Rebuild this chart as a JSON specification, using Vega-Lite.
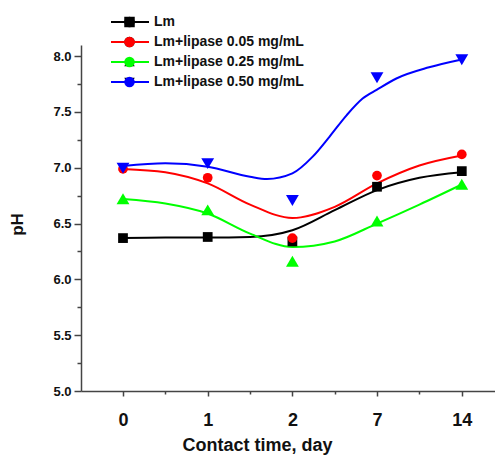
{
  "$schema": "https://vega.github.io/schema/vega-lite/v6.json",
  "width": 414,
  "height": 346,
  "autosize": {"type": "none"},
  "padding": {"left": 81, "top": 45, "right": 0, "bottom": 66},
  "config": {
    "view": {"stroke": null},
    "font": "Liberation Sans",
    "axis": {"grid": false, "domainColor": "#444", "tickColor": "#444", "domainWidth": 1.5, "tickWidth": 1.5, "labelColor": "#111", "labelFontWeight": "bold", "titleColor": "#111", "titleFontWeight": "bold"}
  },
  "datasets": {
    "points": [
      {"series": "Lm", "day": 0, "pH": 6.37},
      {"series": "Lm", "day": 1, "pH": 6.38},
      {"series": "Lm", "day": 2, "pH": 6.34},
      {"series": "Lm", "day": 7, "pH": 6.83},
      {"series": "Lm", "day": 14, "pH": 6.97},
      {"series": "Lm+lipase 0.05 mg/mL", "day": 0, "pH": 6.99},
      {"series": "Lm+lipase 0.05 mg/mL", "day": 1, "pH": 6.91},
      {"series": "Lm+lipase 0.05 mg/mL", "day": 2, "pH": 6.37},
      {"series": "Lm+lipase 0.05 mg/mL", "day": 7, "pH": 6.93},
      {"series": "Lm+lipase 0.05 mg/mL", "day": 14, "pH": 7.12},
      {"series": "Lm+lipase 0.25 mg/mL", "day": 0, "pH": 6.72},
      {"series": "Lm+lipase 0.25 mg/mL", "day": 1, "pH": 6.62},
      {"series": "Lm+lipase 0.25 mg/mL", "day": 2, "pH": 6.16},
      {"series": "Lm+lipase 0.25 mg/mL", "day": 7, "pH": 6.52},
      {"series": "Lm+lipase 0.25 mg/mL", "day": 14, "pH": 6.85},
      {"series": "Lm+lipase 0.50 mg/mL", "day": 0, "pH": 7.0},
      {"series": "Lm+lipase 0.50 mg/mL", "day": 1, "pH": 7.04},
      {"series": "Lm+lipase 0.50 mg/mL", "day": 2, "pH": 6.71},
      {"series": "Lm+lipase 0.50 mg/mL", "day": 7, "pH": 7.81},
      {"series": "Lm+lipase 0.50 mg/mL", "day": 14, "pH": 7.97}
    ],
    "curves": [
      {"series": "Lm", "day": 0, "pH": 6.37},
      {"series": "Lm", "day": 0.5, "pH": 6.375},
      {"series": "Lm", "day": 1, "pH": 6.375},
      {"series": "Lm", "day": 1.5, "pH": 6.38},
      {"series": "Lm", "day": 2, "pH": 6.44},
      {"series": "Lm", "day": 4.5, "pH": 6.62},
      {"series": "Lm", "day": 7, "pH": 6.8},
      {"series": "Lm", "day": 10.5, "pH": 6.91},
      {"series": "Lm", "day": 14, "pH": 6.96},
      {"series": "Lm+lipase 0.05 mg/mL", "day": 0, "pH": 6.99},
      {"series": "Lm+lipase 0.05 mg/mL", "day": 0.5, "pH": 6.96},
      {"series": "Lm+lipase 0.05 mg/mL", "day": 1, "pH": 6.86},
      {"series": "Lm+lipase 0.05 mg/mL", "day": 1.5, "pH": 6.67},
      {"series": "Lm+lipase 0.05 mg/mL", "day": 2, "pH": 6.55},
      {"series": "Lm+lipase 0.05 mg/mL", "day": 4.5, "pH": 6.65},
      {"series": "Lm+lipase 0.05 mg/mL", "day": 7, "pH": 6.86},
      {"series": "Lm+lipase 0.05 mg/mL", "day": 10.5, "pH": 7.02},
      {"series": "Lm+lipase 0.05 mg/mL", "day": 14, "pH": 7.11},
      {"series": "Lm+lipase 0.25 mg/mL", "day": 0, "pH": 6.72},
      {"series": "Lm+lipase 0.25 mg/mL", "day": 0.5, "pH": 6.68},
      {"series": "Lm+lipase 0.25 mg/mL", "day": 1, "pH": 6.59},
      {"series": "Lm+lipase 0.25 mg/mL", "day": 1.5, "pH": 6.41},
      {"series": "Lm+lipase 0.25 mg/mL", "day": 2, "pH": 6.29},
      {"series": "Lm+lipase 0.25 mg/mL", "day": 4.5, "pH": 6.34},
      {"series": "Lm+lipase 0.25 mg/mL", "day": 7, "pH": 6.5},
      {"series": "Lm+lipase 0.25 mg/mL", "day": 10.5, "pH": 6.67},
      {"series": "Lm+lipase 0.25 mg/mL", "day": 14, "pH": 6.85},
      {"series": "Lm+lipase 0.50 mg/mL", "day": 0, "pH": 7.015},
      {"series": "Lm+lipase 0.50 mg/mL", "day": 0.5, "pH": 7.04},
      {"series": "Lm+lipase 0.50 mg/mL", "day": 1, "pH": 7.01},
      {"series": "Lm+lipase 0.50 mg/mL", "day": 1.5, "pH": 6.92},
      {"series": "Lm+lipase 0.50 mg/mL", "day": 1.7, "pH": 6.9},
      {"series": "Lm+lipase 0.50 mg/mL", "day": 2, "pH": 6.95},
      {"series": "Lm+lipase 0.50 mg/mL", "day": 3.2, "pH": 7.1},
      {"series": "Lm+lipase 0.50 mg/mL", "day": 4.2, "pH": 7.28},
      {"series": "Lm+lipase 0.50 mg/mL", "day": 5.2, "pH": 7.47},
      {"series": "Lm+lipase 0.50 mg/mL", "day": 6.15, "pH": 7.62},
      {"series": "Lm+lipase 0.50 mg/mL", "day": 7, "pH": 7.7},
      {"series": "Lm+lipase 0.50 mg/mL", "day": 8.6, "pH": 7.8},
      {"series": "Lm+lipase 0.50 mg/mL", "day": 11.3, "pH": 7.9},
      {"series": "Lm+lipase 0.50 mg/mL", "day": 14, "pH": 7.97}
    ]
  },
  "encoding": {
    "x": {
      "field": "day",
      "type": "quantitative",
      "scale": {"domain": [-0.5, 0, 1, 2, 7, 14, 16.73], "range": [0, 42, 126.7, 211.4, 296, 380.8, 414], "nice": false, "zero": false},
      "axis": {
        "values": [0, 0.5, 1, 1.5, 2, 4.5, 7, 10.5, 14],
        "labelExpr": "datum.value % 1 === 0 ? datum.label : ''",
        "tickSize": {"condition": {"test": "datum.value % 1 === 0", "value": 5}, "value": 3},
        "labelFontSize": 18,
        "labelPadding": 15,
        "title": "Contact time, day",
        "titleFontSize": 18,
        "titleX": 176,
        "titleY": 59,
        "titleAlign": "center",
        "titleBaseline": "alphabetic",
        "labelFlush": false
      }
    },
    "y": {
      "field": "pH",
      "type": "quantitative",
      "scale": {"domain": [5, 8.1], "nice": false, "zero": false},
      "axis": {
        "values": [5, 5.25, 5.5, 5.75, 6, 6.25, 6.5, 6.75, 7, 7.25, 7.5, 7.75, 8],
        "labelExpr": "(datum.value * 2) % 1 === 0 ? format(datum.value, '.1f') : ''",
        "tickSize": {"condition": {"test": "(datum.value * 2) % 1 === 0", "value": 7}, "value": 4},
        "labelFontSize": 13,
        "labelPadding": 3,
        "title": "pH",
        "titleFontSize": 17,
        "titleAngle": -90,
        "titleX": -64,
        "titleY": 179,
        "titleAlign": "center",
        "titleBaseline": "middle",
        "labelFlush": false
      }
    }
  },
  "layer": [
    {
      "data": {"name": "curves"},
      "mark": {"type": "line", "interpolate": "monotone", "strokeWidth": 2},
      "encoding": {
        "color": {
          "field": "series",
          "type": "nominal",
          "scale": {"domain": ["Lm", "Lm+lipase 0.05 mg/mL", "Lm+lipase 0.25 mg/mL", "Lm+lipase 0.50 mg/mL"], "range": ["#000000", "#ff0000", "#00ff00", "#0000ff"]},
          "legend": {
            "orient": "none", "legendX": 29, "legendY": -30, "title": null, "padding": 0,
            "symbolType": "stroke", "symbolSize": 1444, "symbolStrokeWidth": 2,
            "labelFontSize": 14, "labelFontWeight": "bold", "labelColor": "#111", "labelOffset": 4,
            "clipHeight": 14, "rowPadding": 6
          }
        }
      }
    },
    {
      "data": {"name": "points"},
      "mark": {"type": "point", "filled": true, "opacity": 1},
      "encoding": {
        "size": {
          "condition": {"test": "indexof(datum.series, '0.25') >= 0 || indexof(datum.series, '0.50') >= 0", "value": 165},
          "value": 95
        },
        "color": {
          "field": "series",
          "type": "nominal",
          "scale": {"domain": ["Lm", "Lm+lipase 0.05 mg/mL", "Lm+lipase 0.25 mg/mL", "Lm+lipase 0.50 mg/mL"], "range": ["#000000", "#ff0000", "#00ff00", "#0000ff"]},
          "legend": {
            "orient": "none", "legendX": 43, "legendY": -30, "title": null, "padding": 0,
            "symbolSize": 110, "symbolStrokeWidth": 0, "symbolOpacity": 1,
            "labelFontSize": 1, "labelExpr": "''", "labelOffset": 0,
            "clipHeight": 14, "rowPadding": 6
          }
        },
        "shape": {
          "field": "series",
          "type": "nominal",
          "scale": {"domain": ["Lm", "Lm+lipase 0.05 mg/mL", "Lm+lipase 0.25 mg/mL", "Lm+lipase 0.50 mg/mL"], "range": ["square", "circle", "M-1,0.8L1,0.8L0,-0.9Z", "M-1,-0.8L1,-0.8L0,0.9Z"]},
          "legend": {
            "orient": "none", "legendX": 43, "legendY": -30, "title": null, "padding": 0,
            "symbolSize": 110, "symbolStrokeWidth": 0, "symbolOpacity": 1,
            "labelFontSize": 1, "labelExpr": "''", "labelOffset": 0,
            "clipHeight": 14, "rowPadding": 6
          }
        }
      }
    }
  ],
  "resolve": {"scale": {"color": "independent"}}
}
